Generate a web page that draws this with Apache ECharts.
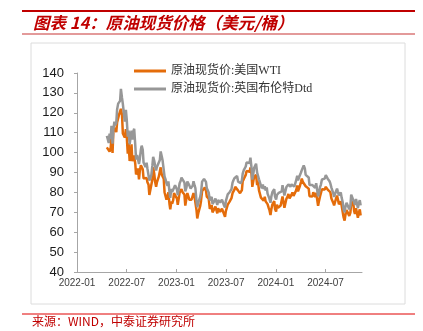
<!DOCTYPE html>
<html>
<head>
<meta charset="utf-8">
<script src="https://cdn.jsdelivr.net/npm/echarts@6/dist/echarts.min.js"></script>
<style>html,body{margin:0;padding:0;background:#fff;}#c{width:423px;height:331px;}</style>
</head>
<body>
<div id="c"></div>
<script>
// Twice-weekly observations: Tuesdays and Fridays, first Friday 2022-04-22
const firstFriday = '2022-04-22';
const xTickLabels = ['2022-01', '2022-07', '2023-01', '2023-07', '2024-01', '2024-07'];
const seriesNames = ['原油现货价:美国WTI', '原油现货价:英国布伦特Dtd'];

const wtiFri = [
  103.0, 100.5, 107.5, 110.5, 112.5, 115.1, 118.9, 122.0, 109.6, 107.6, 108.4, 104.8, 97.6, 95.7, 98.6,
  89.0, 92.1, 90.8, 93.1, 87.0, 86.8, 85.1, 78.7, 79.5, 92.6, 85.6, 85.1, 87.9, 92.6, 89.0, 80.1, 76.3,
  80.0, 71.5, 74.3, 79.6, 80.3,
  73.8, 79.9, 81.6, 79.7, 73.4, 79.7, 76.3, 76.3, 79.7, 76.7, 66.9, 69.3, 75.7, 80.7, 82.5, 77.9, 76.8,
  71.3, 70.0, 71.7, 72.7, 72.0, 70.2, 71.8, 69.2, 70.6, 73.9, 75.4, 77.1, 80.6, 82.8, 83.2, 81.3, 79.8,
  85.6, 87.5, 90.8, 90.0, 92.5, 82.8, 87.7, 88.8, 85.5, 80.5, 77.2, 75.9, 75.5, 74.1, 71.2, 71.4, 73.6, 71.7,
  73.8, 72.7, 73.4, 78.0, 72.3, 76.8, 79.2, 76.5, 80.0, 78.0, 81.0, 80.6, 83.2, 86.9, 85.7, 83.1, 83.9,
  78.1, 78.3, 80.1, 77.7, 77.0, 75.5, 78.5, 80.7, 81.5, 83.2, 82.2, 80.1, 77.2, 73.5, 76.8, 76.7, 74.8,
  73.6, 67.7, 68.7, 71.0, 68.2, 74.4, 75.6, 69.2, 71.8, 69.5, 68.4
];
const wtiTue = [
  102.6, 101.7, 102.4, 99.8, 112.4, 110.3, 114.7, 119.4, 118.9, 109.5, 111.8, 99.5, 95.8, 104.2, 94.9,
  94.4, 90.5, 86.5, 93.7, 91.6, 86.9, 87.3, 83.9, 78.5, 86.5, 89.4, 82.8, 85.3, 88.4, 88.9, 86.9, 80.9,
  78.2, 74.3, 75.4, 76.1, 79.5,
  76.9, 74.6, 80.2, 80.1, 78.9, 77.1, 79.1, 76.4, 77.1, 77.6, 71.3, 69.7, 73.2, 80.7, 81.5, 80.9, 77.1,
  71.7, 73.7, 70.9, 72.9, 69.5, 71.7, 69.4, 71.2, 67.7, 70.8, 74.8, 75.8, 79.6, 81.4, 82.9, 80.9, 79.6,
  81.2, 86.7, 88.8, 91.2, 90.4, 89.2, 86.0, 86.7, 83.7, 81.0, 77.4, 78.3, 77.8, 76.4, 72.3, 68.6, 73.9, 75.6,
  70.4, 72.2, 72.4, 74.4, 77.8, 73.3, 77.9, 77.0, 78.9, 78.2, 77.6, 83.5, 81.6, 85.2, 85.2, 85.4, 83.4,
  81.9, 78.4, 78.0, 79.3, 79.8, 73.3, 78.0, 81.6, 80.8, 82.8, 81.4, 80.8, 76.9, 74.7, 73.2, 78.4, 74.0,
  75.5, 70.3, 65.8, 71.2, 71.6, 69.8, 73.6, 70.6, 72.1, 67.2, 71.5
];
const brentFri = [
  107.0, 109.5, 113.5, 111.6, 113.8, 121.6, 125.1, 132.0, 124.5, 115.6, 116.8, 111.1, 103.4, 106.5, 112.0,
  96.5, 99.8, 96.8, 103.5, 95.0, 92.7, 92.0, 86.0, 88.6, 97.9, 93.5, 92.8, 93.8, 100.6, 96.0, 88.0, 84.6,
  85.6, 77.3, 80.2, 82.3, 82.9,
  78.6, 84.6, 87.4, 86.4, 80.5, 85.5, 83.4, 82.4, 85.6, 82.2, 72.6, 74.9, 79.8, 85.5, 87.5, 82.0, 79.8,
  75.2, 74.2, 75.6, 76.3, 76.2, 74.9, 76.4, 73.6, 75.6, 79.0, 80.1, 81.6, 86.0, 87.3, 88.2, 85.8, 84.6,
  89.4, 91.7, 95.0, 94.5, 97.5, 86.4, 92.4, 94.4, 90.9, 86.9, 82.0, 81.7, 80.9, 79.4, 76.9, 77.8, 80.1, 77.9,
  78.7, 79.8, 80.0, 83.6, 78.4, 82.7, 84.0, 82.9, 84.4, 82.9, 86.0, 86.0, 88.0, 91.2, 93.5, 88.8, 89.3,
  83.7, 83.6, 84.1, 82.3, 81.7, 79.6, 83.8, 86.0, 86.9, 88.0, 87.0, 84.5, 81.4, 77.7, 80.5, 80.4, 78.9,
  77.5, 71.7, 72.8, 74.9, 71.5, 78.9, 79.6, 73.8, 76.3, 74.2, 73.5
];
const brentTue = [
  108.4, 104.8, 107.0, 104.5, 115.5, 114.9, 124.6, 126.0, 127.5, 119.4, 121.5, 108.0, 104.1, 111.0, 110.7,
  103.8, 98.8, 94.3, 101.5, 101.4, 94.6, 94.9, 92.0, 86.0, 93.4, 95.9, 91.0, 92.9, 96.3, 98.0, 95.1, 86.4,
  83.3, 80.4, 81.8, 80.7, 83.6,
  81.5, 79.5, 85.8, 86.9, 84.9, 82.5, 84.6, 81.9, 83.4, 83.5, 75.9, 75.0, 77.7, 85.4, 86.8, 85.3, 80.9,
  76.0, 77.7, 75.2, 76.9, 73.7, 76.6, 74.2, 76.1, 72.4, 76.0, 79.5, 80.0, 84.9, 87.1, 87.7, 85.4, 84.5,
  86.0, 91.2, 93.0, 95.8, 94.8, 92.5, 89.6, 92.0, 89.9, 86.6, 83.4, 84.0, 83.1, 82.5, 78.5, 74.8, 80.1, 81.6,
  76.4, 78.0, 79.0, 80.5, 83.8, 79.3, 83.6, 83.3, 84.0, 83.2, 82.9, 88.4, 87.6, 90.0, 91.6, 92.0, 89.5,
  87.5, 83.7, 83.7, 83.3, 84.6, 78.0, 82.7, 86.5, 86.6, 88.7, 86.9, 85.6, 82.4, 79.5, 77.1, 81.9, 78.5,
  80.0, 75.2, 70.0, 74.8, 75.5, 73.3, 78.6, 75.0, 76.7, 72.1, 76.1
];

// date -> fractional months since 2022-01 (the x-axis scale)
function monthPos(d) {
  const y = d.getUTCFullYear(), m = d.getUTCMonth();
  const dim = new Date(Date.UTC(y, m + 1, 0)).getUTCDate();
  return (y - 2022) * 12 + m + (d.getUTCDate() - 1) / dim;
}
const DAY = 86400000;
const start = new Date(firstFriday + 'T00:00:00Z').getTime();
function build(tue, fri) {
  const out = [];
  for (let i = 0; i < fri.length; i++) {
    const f = start + i * 7 * DAY;
    out.push([monthPos(new Date(f - 3 * DAY)), tue[i]]);
    out.push([monthPos(new Date(f)), fri[i]]);
  }
  return out;
}
const wtiData = build(wtiTue, wtiFri);
const brentData = build(brentTue, brentFri);
const tickPos = xTickLabels.map(s => { const [y, m] = s.split('-').map(Number); return (y - 2022) * 12 + (m - 1); });

const chart = echarts.init(document.getElementById('c'), null, {renderer: 'canvas'});
const red = '#c00000';
chart.setOption({
  animation: false,
  backgroundColor: '#fff',
  grid: {left: 77, right: 61, top: 73, bottom: 59, containLabel: false},
  legend: {
    orient: 'vertical', left: 129, top: 59, itemWidth: 32, itemHeight: 3, itemGap: 4, icon: 'rect',
    textStyle: {fontFamily: "'Liberation Serif','Noto Sans CJK SC'", fontSize: 12, lineHeight: 14, color: '#333'},
    data: seriesNames
  },
  xAxis: {
    type: 'value', min: 0, max: 34.4,
    axisLine: {show: true, lineStyle: {color: '#a6a6a6', width: 1}},
    axisTick: {show: true, inside: true, length: 3, customValues: tickPos, lineStyle: {color: '#a6a6a6'}},
    axisLabel: {customValues: tickPos, formatter: v => { const i = tickPos.indexOf(v); return i >= 0 ? xTickLabels[i] : ''; },
      fontSize: 10, color: '#404040', margin: 6, fontFamily: "'Liberation Sans', Arial"},
    splitLine: {show: false}
  },
  yAxis: {
    type: 'value', min: 40, max: 140, interval: 10,
    axisLine: {show: true, lineStyle: {color: '#a6a6a6', width: 1}},
    axisTick: {show: true, inside: false, length: 3, lineStyle: {color: '#a6a6a6'}},
    axisLabel: {fontSize: 13, color: '#1a1a1a', margin: 13, fontFamily: "'Liberation Sans', Arial"},
    splitLine: {show: false}
  },
  series: [
    {name: seriesNames[0], type: 'line', data: wtiData, symbol: 'none', color: '#E46C0A',
      lineStyle: {width: 2.5, color: '#E46C0A'}, z: 2},
    {name: seriesNames[1], type: 'line', data: brentData, symbol: 'none', color: '#979797',
      lineStyle: {width: 2.5, color: '#979797'}, z: 3}
  ],
  graphic: [
    {type: 'line', shape: {x1: 22, y1: 11, x2: 415, y2: 11}, style: {stroke: red, lineWidth: 2}},
    {type: 'text', left: 33, top: 14, style: {text: '图表 14：原油现货价格（美元/桶）', fill: red,
      font: "italic bold 16.5px 'Noto Sans CJK SC'"}},
    {type: 'line', shape: {x1: 22, y1: 34, x2: 415, y2: 34}, style: {stroke: '#e39a9a', lineWidth: 2}},
    {type: 'rect', shape: {x: 31, y: 43, width: 374, height: 261}, style: {fill: 'none', stroke: '#dcdcdc', lineWidth: 1}, z: -1},
    {type: 'line', shape: {x1: 22, y1: 314, x2: 415, y2: 314}, style: {stroke: '#e00000', lineWidth: 1}},
    {type: 'text', left: 32, top: 315, style: {text: '来源：WIND，中泰证券研究所', fill: red,
      font: "12px 'Noto Sans CJK SC'"}}
  ]
});
</script>
</body>
</html>
